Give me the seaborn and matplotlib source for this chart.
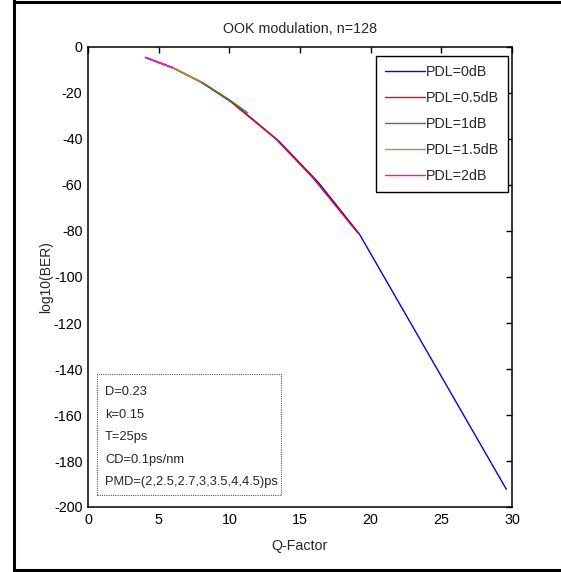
import matplotlib
matplotlib.use("Agg")
import matplotlib.pyplot as plt
import matplotlib.lines as mlines
from matplotlib.patches import Rectangle
import seaborn as sns
import pandas as pd

# ---- data ----
labels = ["PDL=0dB", "PDL=0.5dB", "PDL=1dB", "PDL=1.5dB", "PDL=2dB"]
colors = ["#0000ff", "#ff0000", "#2a922a", "#bf9035", "#ff00ff"]

q_0dB = [4.2, 6.1, 8.1, 10.2, 13.5, 16.3, 19.2, 29.6]
b_0dB = [-4.9, -9.3, -15.6, -24.0, -40.9, -58.9, -81.3, -192.3]
q_05dB = [4.1, 6.0, 8.0, 10.0, 13.3, 15.9, 19.1]
b_05dB = [-4.7, -9.0, -15.3, -23.3, -40.0, -56.8, -80.9]
q_1dB = [4.1, 6.0, 8.0, 9.9, 11.3]
b_1dB = [-4.7, -9.0, -15.1, -22.5, -28.6]
q_15dB = [4.1, 6.0, 8.0]
b_15dB = [-4.7, -9.0, -15.2]
q_2dB = [4.05, 6.0]
b_2dB = [-4.4, -9.0]

xticks = [0, 5, 10, 15, 20, 25, 30]
yticks = [0, -20, -40, -60, -80, -100, -120, -140, -160, -180, -200]
info_lines = ["D=0.23", "k=0.15", "T=25ps", "CD=0.1ps/nm", "PMD=(2,2.5,2.7,3,3.5,4,4.5)ps"]

qs = [q_0dB, q_05dB, q_1dB, q_15dB, q_2dB]
bs = [b_0dB, b_05dB, b_1dB, b_15dB, b_2dB]
rows = []
for lab, q, b in zip(labels, qs, bs):
    for qq, bb in zip(q, b):
        rows.append({"Q": qq, "BER": bb, "PDL": lab})
df = pd.DataFrame(rows)

sns.set_style("white")
plt.rcParams["font.family"] = ["Liberation Sans", "DejaVu Sans"]
plt.rcParams["axes.linewidth"] = 1.1

FS = 10.3

W, H = 561, 572
fig = plt.figure(figsize=(W / 100, H / 100), dpi=100)
ax = fig.add_axes([88 / W, 1 - 507 / H, (512 - 88) / W, (507 - 47) / H])

sns.lineplot(data=df, x="Q", y="BER", hue="PDL", hue_order=labels,
             palette=colors, sort=False, estimator=None,
             linewidth=1.0, ax=ax, legend=False)

ax.set_xlim(0, 30)
ax.set_ylim(-200, 0)
ax.set_xticks(xticks)
ax.set_yticks(yticks)
ax.set_xticklabels([str(t) for t in xticks])
ax.set_yticklabels([str(t) for t in yticks])
ax.tick_params(direction="in", length=4, width=1, top=True, right=True,
               labelsize=FS, colors="black", pad=4)
for s in ax.spines.values():
    s.set_color("black")
    s.set_linewidth(1.1)

ax.set_title("OOK modulation, n=128", fontsize=FS, pad=10)
ax.set_xlabel("Q-Factor", fontsize=FS, labelpad=9)
ax.set_ylabel("log10(BER)", fontsize=10, labelpad=0.5)

handles = [mlines.Line2D([], [], color=c, lw=1.0) for c in colors]
leg = ax.legend(handles, labels, loc="upper right",
                bbox_to_anchor=((508 - 88) / 424, (507 - 56) / 460),
                borderaxespad=0, fontsize=FS, handlelength=2.8, handletextpad=0.1,
                labelspacing=0.85, borderpad=0.6, fancybox=False, framealpha=1,
                edgecolor="black")
leg.get_frame().set_linewidth(1.0)

# info box
bx0, bx1 = (97 - 88) / 424, (281 - 88) / 424
by0, by1 = (507 - 495) / 460, (507 - 374) / 460
ax.add_patch(Rectangle((bx0, by0), bx1 - bx0, by1 - by0, transform=ax.transAxes,
                       fill=True, facecolor="white", edgecolor="#555555",
                       linestyle=(0, (1, 1)), linewidth=0.8, zorder=5))
ys_px = [392, 415, 437, 460, 482]
for txt, yp in zip(info_lines, ys_px):
    ax.text((105 - 88) / 424, (507 - yp) / 460, txt, transform=ax.transAxes,
            ha="left", va="center", fontsize=9.3, zorder=6)

# figure border (left, top, bottom)
fig.add_artist(mlines.Line2D([13.5 / W, 13.5 / W], [0, 1], color="black", lw=2.2, transform=fig.transFigure))
fig.add_artist(mlines.Line2D([13.5 / W, 1], [1 - 1.5 / H, 1 - 1.5 / H], color="black", lw=2.2, transform=fig.transFigure))
fig.add_artist(mlines.Line2D([13.5 / W, 1], [1 - 569.5 / H, 1 - 569.5 / H], color="black", lw=2.2, transform=fig.transFigure))

fig.savefig("out.png", dpi=100, facecolor="white")
